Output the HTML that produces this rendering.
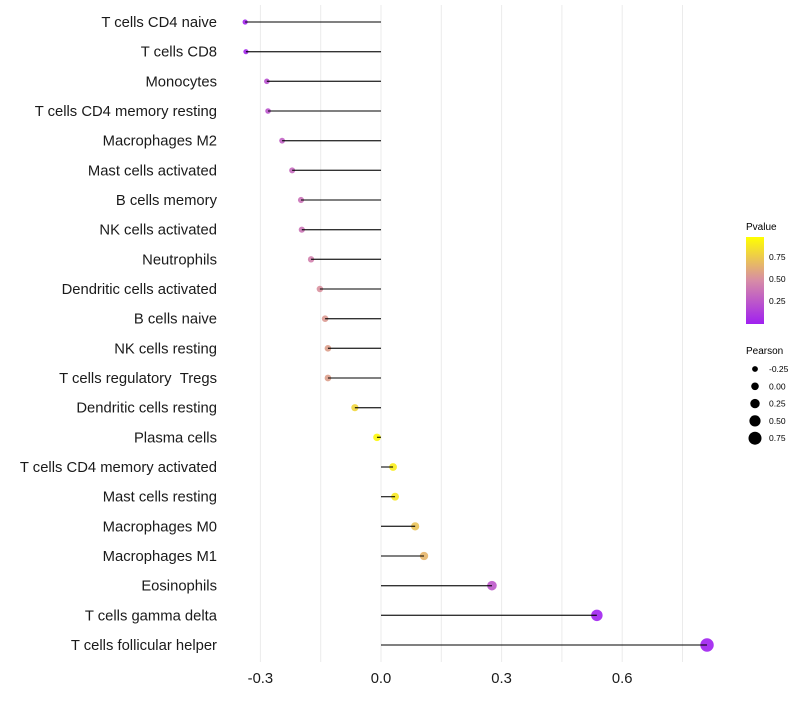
<!DOCTYPE html>
<html><head><meta charset="utf-8"><style>
body{margin:0;background:#fff;font-family:"Liberation Sans",sans-serif}
</style></head><body>
<svg id="chart" width="800" height="700">
<defs><linearGradient id="pg" x1="0" y1="1" x2="0" y2="0">
<stop offset="0" stop-color="#a020f0"/><stop offset="0.5" stop-color="#d78ca6"/><stop offset="1" stop-color="#ffff00"/></linearGradient></defs>
<g id="grid"></g><g id="marks"></g><g id="ylabels"></g><g id="xticks"></g>
<g>
<text x="746" y="230" font-size="10">Pvalue</text>
<rect x="746" y="237" width="18" height="87" fill="url(#pg)"/>
<text x="769" y="260" font-size="8.5">0.75</text>
<text x="769" y="282" font-size="8.5">0.50</text>
<text x="769" y="304" font-size="8.5">0.25</text>
</g>
<g id="sizeleg">
<text x="746" y="354" font-size="10">Pearson</text>
</g>
</svg>
<script>
const categories=["T cells CD4 naive","T cells CD8","Monocytes","T cells CD4 memory resting","Macrophages M2","Mast cells activated","B cells memory","NK cells activated","Neutrophils","Dendritic cells activated","B cells naive","NK cells resting","T cells regulatory \u00a0Tregs","Dendritic cells resting","Plasma cells","T cells CD4 memory activated","Mast cells resting","Macrophages M0","Macrophages M1","Eosinophils","T cells gamma delta","T cells follicular helper"];
const pearson=[-0.338,-0.336,-0.284,-0.281,-0.246,-0.221,-0.199,-0.197,-0.174,-0.152,-0.139,-0.132,-0.132,-0.065,-0.010,0.030,0.035,0.085,0.107,0.276,0.537,0.811];
const pvalue=[0.02,0.03,0.22,0.24,0.30,0.34,0.38,0.39,0.45,0.52,0.56,0.58,0.58,0.82,0.97,0.92,0.90,0.74,0.68,0.26,0.01,0.0];
const xTicks=[-0.3,0,0.3,0.6];
const xTickLabels=["-0.3","0.0","0.3","0.6"];
const legendVals=[-0.25,0,0.25,0.5,0.75];
const legendLabels=["-0.25","0.00","0.25","0.50","0.75"];
const NS="http://www.w3.org/2000/svg";
const x=v=>381+v*402;
const y=i=>22+i*(623/(categories.length-1));
const r=p=>Math.max(1.8,3.8+3.6*p);
function col(p){const a=[160,32,240],m=[215,140,166],b=[255,255,0];let c0,c1,t;
 if(p<0.5){c0=a;c1=m;t=p/0.5}else{c0=m;c1=b;t=(p-0.5)/0.5}
 return "rgb("+c0.map((c,k)=>Math.round(c+(c1[k]-c)*t)).join(",")+")";}
function mk(tag,at,par){const e=document.createElementNS(NS,tag);for(const k in at)e.setAttribute(k,at[k]);par.appendChild(e);return e;}
const grid=document.getElementById("grid");
[-0.3,-0.15,0,0.15,0.3,0.45,0.6,0.75].forEach(v=>{const l=mk("line",{x1:x(v),x2:x(v),y1:5,y2:662,stroke:"#ebebeb","stroke-width":1},grid);

});
const marks=document.getElementById("marks"),yl=document.getElementById("ylabels");
categories.forEach((c,i)=>{
 const d=mk("circle",{cx:x(pearson[i]),cy:y(i),r:r(pearson[i]),fill:col(pvalue[i]),"fill-opacity":0.9},marks);
 
 
 const l=mk("line",{x1:x(0),x2:x(pearson[i]),y1:y(i),y2:y(i),stroke:"#000","stroke-width":1.3,"stroke-opacity":0.8},marks);
 
 
 const t=mk("text",{x:217,y:y(i)+5,"font-size":14.8,"text-anchor":"end",fill:"#1a1a1a"},yl);t.textContent=c;
 
 
});
const xt=document.getElementById("xticks");
xTicks.forEach((v,i)=>{const t=mk("text",{x:x(v),y:683,"font-size":14.8,"text-anchor":"middle",fill:"#1a1a1a"},xt);t.textContent=xTickLabels[i];

});
const sl=document.getElementById("sizeleg");
legendVals.forEach((v,i)=>{const cy=369+i*17.3;
 const c=mk("circle",{cx:755,cy:cy,r:r(v),fill:"#000"},sl);
 
 
 const t=mk("text",{x:769,y:cy+3,"font-size":8.5},sl);t.textContent=legendLabels[i];});
</script>
</body></html>
